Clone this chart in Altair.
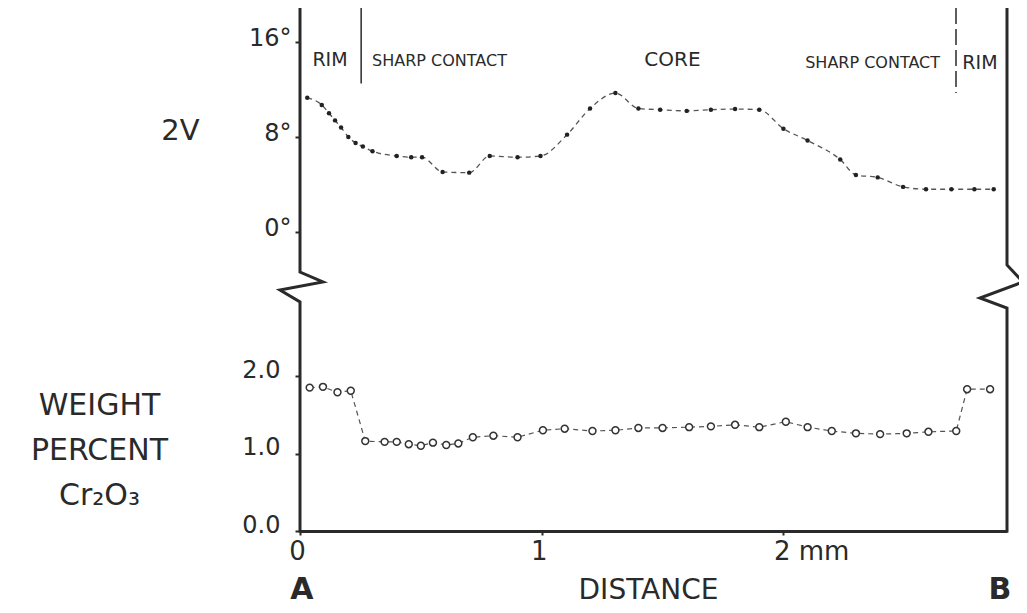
import altair as alt
import pandas as pd

# ---------------- data ----------------
dist_2v = [0.03, 0.09, 0.12, 0.145, 0.17, 0.20, 0.23, 0.26, 0.30, 0.40, 0.46, 0.505,
           0.59, 0.70, 0.785, 0.90, 0.995, 1.105, 1.20, 1.305, 1.40, 1.49, 1.60, 1.70,
           1.80, 1.90, 2.00, 2.10, 2.235, 2.30, 2.39, 2.495, 2.59, 2.695, 2.79, 2.87]
val_2v = [11.3, 10.7, 10.0, 9.4, 8.8, 8.0, 7.5, 7.2, 6.8, 6.4, 6.3, 6.3,
          5.05, 5.0, 6.4, 6.3, 6.4, 8.2, 10.4, 11.7, 10.4, 10.3, 10.2, 10.3,
          10.35, 10.3, 8.7, 7.7, 6.1, 4.8, 4.6, 3.8, 3.6, 3.6, 3.6, 3.6]

dist_cr = [0.04, 0.095, 0.155, 0.21, 0.27, 0.35, 0.40, 0.45, 0.50, 0.55, 0.605, 0.655,
           0.715, 0.80, 0.90, 1.005, 1.095, 1.21, 1.305, 1.40, 1.50, 1.61, 1.70, 1.80,
           1.90, 2.01, 2.10, 2.20, 2.30, 2.40, 2.51, 2.60, 2.715, 2.76, 2.855]
val_cr = [1.85, 1.86, 1.79, 1.81, 1.16, 1.15, 1.15, 1.12, 1.10, 1.14, 1.11, 1.13,
          1.21, 1.23, 1.21, 1.30, 1.32, 1.29, 1.30, 1.33, 1.33, 1.34, 1.35, 1.37,
          1.34, 1.41, 1.34, 1.29, 1.26, 1.25, 1.26, 1.28, 1.29, 1.83, 1.83]

zone_labels = ["RIM", "SHARP CONTACT", "CORE", "SHARP CONTACT", "RIM"]
x_ticks = [0, 1, 2]
deg_ticks = [0, 8, 16]
cr_ticks = [0, 1, 2]

# ---------------- layout ----------------
W, H = 707, 523
XMAX = 2.925
FONT = "DejaVu Sans"
INK = "#2a2a2a"

deg_px = (224 - 34) / 16.0                     # px per degree
up_dom = [-(H - 224) / deg_px, 16 + 34 / deg_px]
cr_px = (523 - 368) / 2.0                      # px per weight percent
lo_dom = [0, H / cr_px]

xs = alt.Scale(domain=[0, XMAX], nice=False, zero=False)
ys_up = alt.Scale(domain=up_dom, nice=False, zero=False)
ys_lo = alt.Scale(domain=lo_dom, nice=False, zero=False)

xaxis = alt.Axis(
    values=x_ticks, grid=False,
    labelExpr="datum.value == 2 ? '2 mm' : datum.label",
    labelAlign=alt.condition("datum.value == 2", alt.value("left"), alt.value("center")),
    labelOffset=alt.condition("datum.value == 2", alt.value(-10), alt.value(-3)),
    domainColor=INK, domainWidth=3, tickColor=INK, tickWidth=2, tickSize=4,
    labelFont=FONT, labelFontSize=26, labelColor=INK, labelPadding=3,
    title="DISTANCE", titleFont=FONT, titleFontSize=28, titleFontWeight="normal",
    titleColor=INK, titleX=348, titleY=59, titleAlign="center", titleBaseline="middle",
)


def X(field="x"):
    return alt.X(f"{field}:Q", scale=xs, axis=xaxis)


up_axis = alt.Axis(
    values=deg_ticks, orient="left", grid=False, domain=False,
    labelExpr="datum.value + '°'", tickColor=INK, tickWidth=2, tickSize=5,
    labelFont=FONT, labelFontSize=24, labelColor=INK, labelPadding=4, labelOffset=-4,
    title="2V", titleAngle=0, titleX=-120, titleY=122, titleAlign="center",
    titleBaseline="middle", titleFont=FONT, titleFontSize=29,
    titleFontWeight="normal", titleColor=INK,
)
lo_axis = alt.Axis(
    values=cr_ticks, orient="left", grid=False, domain=False, format=".1f",
    tickColor=INK, tickWidth=2, tickSize=5,
    labelFont=FONT, labelFontSize=24, labelColor=INK, labelPadding=15, labelOffset=-6,
    title=["WEIGHT", "PERCENT", "Cr₂O₃"], titleAngle=0, titleX=-201, titleY=397,
    titleAlign="center", titleBaseline="middle", titleLineHeight=45,
    titleFont=FONT, titleFontSize=30, titleFontWeight="normal", titleColor=INK,
)

df_up = pd.DataFrame({"x": dist_2v, "v": val_2v})
df_lo = pd.DataFrame({"x": dist_cr, "w": val_cr})

line_up = alt.Chart(df_up).mark_line(
    strokeDash=[5, 4], strokeWidth=1.3, color="#555", interpolate="monotone"
).encode(x=X(), y=alt.Y("v:Q", scale=ys_up, axis=up_axis))
pts_up = alt.Chart(df_up).mark_point(
    filled=True, size=20, color="#222", opacity=1
).encode(x=X(), y=alt.Y("v:Q", scale=ys_up, axis=None))

line_lo = alt.Chart(df_lo).mark_line(
    strokeDash=[5, 4], strokeWidth=1.2, color="#555"
).encode(x=X(), y=alt.Y("w:Q", scale=ys_lo, axis=lo_axis))
pts_lo = alt.Chart(df_lo).mark_point(
    filled=True, fill="white", stroke="#333", strokeWidth=1.5, size=48, opacity=1
).encode(x=X(), y=alt.Y("w:Q", scale=ys_lo, axis=None))

# broken vertical axes (zig-zag marks), in data units of the 2V scale
frame = pd.DataFrame({
    "side": ["L"] * 6 + ["R"] * 6,
    "seq": list(range(6)) * 2,
    "x": [0, 0, 0.095, -0.083, 0, 0,
          XMAX, XMAX, 2.991, 2.813, XMAX, XMAX],
    "y": [up_dom[1], -3.37, -4.21, -4.88, -5.89, up_dom[0],
          up_dom[1], -2.78, -4.21, -5.56, -6.40, up_dom[0]],
})
frame_lines = alt.Chart(frame).mark_line(
    color=INK, strokeWidth=3, strokeJoin="miter", strokeCap="square"
).encode(
    x=X(), y=alt.Y("y:Q", scale=ys_up, axis=None),
    detail="side:N", order="seq:Q",
)

zones = pd.DataFrame({
    "label": zone_labels,
    "x": [0.124, 0.577, 1.541, 2.369, 2.813],
    "y": [14.48, 14.40, 14.48, 14.23, 14.23],
    "fs": [19, 16, 20, 16, 19],
})
zone_text = alt.Chart(zones).mark_text(
    font=FONT, color=INK, align="center", baseline="middle"
).encode(
    x=X(), y=alt.Y("y:Q", scale=ys_up, axis=None),
    text="label:N", size=alt.Size("fs:Q", scale=None),
)

div_solid = alt.Chart(pd.DataFrame({"x": [0.253], "y": [up_dom[1]], "y2": [12.5]})).mark_rule(
    color=INK, strokeWidth=1.5
).encode(x=X(), y=alt.Y("y:Q", scale=ys_up, axis=None), y2="y2:Q")
div_dash = alt.Chart(pd.DataFrame({"x": [2.714], "y": [up_dom[1]], "y2": [11.7]})).mark_rule(
    color=INK, strokeWidth=1.5, strokeDash=[16, 5]
).encode(x=X(), y=alt.Y("y:Q", scale=ys_up, axis=None), y2="y2:Q")

ends = pd.DataFrame({"label": ["A", "B"], "x": [0.008, 2.896], "y": [-0.877, -0.877]})
end_text = alt.Chart(ends).mark_text(
    font=FONT, fontSize=30, fontWeight="bold", color=INK, align="center",
    baseline="alphabetic"
).encode(x=X(), y=alt.Y("y:Q", scale=ys_lo, axis=None), text="label:N")

chart = alt.layer(
    frame_lines, line_up, pts_up, line_lo, pts_lo, zone_text, div_solid, div_dash, end_text
).resolve_scale(y="independent").properties(
    width=W, height=H, background="white",
    padding={"left": 292, "top": 0, "right": 12, "bottom": 74},
    autosize=alt.AutoSizeParams(type="none"),
).configure_view(stroke=None)

chart.save("out.html", embed_options={"renderer": "svg", "actions": False})
